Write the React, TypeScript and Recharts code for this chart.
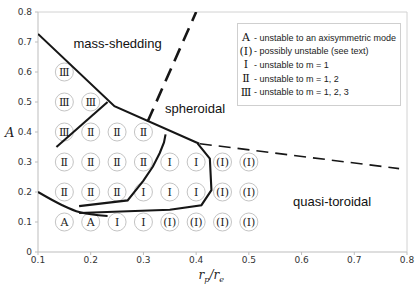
import React from 'react'
import { ComposedChart, Scatter, XAxis, YAxis, ReferenceLine, ReferenceDot, Legend } from 'recharts'

// stability map grid: columns of r_p/r_e, rows of A
const colX = [0.15, 0.2, 0.25, 0.3, 0.35, 0.4, 0.45, 0.5]
const rowY = [0.6, 0.5, 0.4, 0.3, 0.2, 0.1]
const modeGrid = [
  ['Ⅲ'],
  ['Ⅲ', 'Ⅲ'],
  ['Ⅲ', 'Ⅱ', 'Ⅱ', 'Ⅱ'],
  ['Ⅱ', 'Ⅱ', 'Ⅱ', 'Ⅱ', 'Ⅰ', 'Ⅰ', '(Ⅰ)', '(Ⅰ)'],
  ['Ⅱ', 'Ⅱ', 'Ⅱ', 'Ⅰ', 'Ⅰ', 'Ⅰ', '(Ⅰ)', '(Ⅰ)'],
  ['A', 'A', 'Ⅰ', 'Ⅰ', '(Ⅰ)', '(Ⅰ)', '(Ⅰ)', '(Ⅰ)'],
]

// boundaries
const massShedding = [
  { x: 0.1, y: 0.727 },
  { x: 0.245, y: 0.486 },
  { x: 0.406, y: 0.361 },
]
const m3Boundary = [
  { x: 0.135, y: 0.35 },
  { x: 0.232, y: 0.5 },
]
const m2Boundary = [
  { x: 0.178, y: 0.153 },
  { x: 0.27, y: 0.172 },
  { x: 0.3, y: 0.238 },
  { x: 0.318, y: 0.285 },
  { x: 0.331, y: 0.33 },
  { x: 0.339, y: 0.365 },
  { x: 0.342, y: 0.392 },
]
const m1Boundary = [
  { x: 0.178, y: 0.13 },
  { x: 0.35, y: 0.141 },
  { x: 0.41, y: 0.156 },
  { x: 0.429, y: 0.206 },
  { x: 0.426, y: 0.311 },
  { x: 0.403, y: 0.361 },
]
const axisymBoundary = [
  { x: 0.1, y: 0.2 },
  { x: 0.146, y: 0.156 },
  { x: 0.178, y: 0.133 },
  { x: 0.232, y: 0.12 },
]
const spheroidalDash = [
  { x: 0.308, y: 0.435 },
  { x: 0.4, y: 0.8 },
]
const toroidalDash = [
  { x: 0.407, y: 0.361 },
  { x: 0.785, y: 0.278 },
]

const xTicks = [0.1, 0.2, 0.3, 0.4, 0.5, 0.6, 0.7, 0.8]
const yTicks = [0, 0.1, 0.2, 0.3, 0.4, 0.5, 0.6, 0.7, 0.8]

const legendSymbols = ['A', '(Ⅰ)', 'Ⅰ', 'Ⅱ', 'Ⅲ']
const legendTexts = [
  '- unstable to an axisymmetric mode',
  '- possibly unstable (see text)',
  '- unstable to m = 1',
  '- unstable to m = 1, 2',
  '- unstable to m = 1, 2, 3',
]

const cells = rowY.flatMap((y, r) => modeGrid[r].map((label, c) => ({ x: colX[c], y, label })))

const SANS = '"Liberation Sans", Arial, sans-serif'
const SERIF = '"DejaVu Serif", "Liberation Serif", serif'

function ModeCell(props: any) {
  const { cx, cy, payload } = props
  return (
    <g>
      <circle cx={cx} cy={cy} r={9} fill="none" stroke="#c4c4c4" strokeWidth={1} />
      <text x={cx} y={cy} dy="0.36em" textAnchor="middle" fontFamily={SERIF} fontSize={11} fill="#222">
        {payload.label}
      </text>
    </g>
  )
}

const noDot = () => <g />

function StabilityLegend() {
  return (
    <div
      style={{
        border: '1px solid #cfcfcf',
        background: '#fff',
        padding: '7px 0 6px 1px',
        width: 164,
        boxSizing: 'border-box',
      }}
    >
      {legendSymbols.map((s, i) => (
        <div key={i} style={{ display: 'flex', alignItems: 'center', height: 13.6, whiteSpace: 'nowrap' }}>
          <span style={{ width: 14, textAlign: 'center', fontFamily: SERIF, fontSize: 11, color: '#111' }}>{s}</span>
          <span style={{ fontFamily: SANS, fontSize: 9, color: '#222', marginLeft: 1 }}>{legendTexts[i]}</span>
        </div>
      ))}
    </div>
  )
}

function RatioLabel(props: any) {
  const { viewBox } = props
  const cx = viewBox.x + viewBox.width / 2 - 24
  return (
    <text x={cx} y={viewBox.y + 27} fontFamily={SERIF} fontStyle="italic" fontSize={12} fill="#222">
      <tspan>r</tspan>
      <tspan dy={3} fontSize={8}>p</tspan>
      <tspan dy={-3}>/r</tspan>
      <tspan dy={3} fontSize={8}>e</tspan>
    </text>
  )
}

const tickStyle = { fontSize: 9, fill: '#333', fontFamily: '"DejaVu Sans", sans-serif' }

export default function App() {
  const lineStyle = { stroke: '#161616', strokeWidth: 2.1 }
  return (
    <div style={{ position: 'absolute', left: 0, top: 0, background: '#fff' }}>
      <ComposedChart width={415} height={286} margin={{ top: 12, right: 8, bottom: 0, left: 0 }}>
        <XAxis
          type="number"
          dataKey="x"
          domain={[0.1, 0.8]}
          ticks={xTicks}
          allowDataOverflow
          height={34}
          stroke="#bdbdbd"
          tickSize={3}
          tickMargin={2}
          tick={tickStyle}
          tickFormatter={(v: number) => String(v)}
          label={{ content: <RatioLabel /> }}
        />
        <YAxis
          type="number"
          dataKey="y"
          domain={[0, 0.8]}
          ticks={yTicks}
          allowDataOverflow
          width={38}
          stroke="#bdbdbd"
          tickSize={3}
          tickMargin={3}
          tick={tickStyle}
          tickFormatter={(v: number) => String(v)}
          label={{
            value: 'A',
            position: 'insideLeft',
            offset: 5,
            style: { fontFamily: SERIF, fontStyle: 'italic', fontSize: 13, fill: '#222' },
          }}
        />
        <ReferenceLine y={0.8} stroke="#d2d2d2" />
        <ReferenceLine x={0.8} stroke="#d2d2d2" />

        <Scatter data={cells} shape={<ModeCell />} isAnimationActive={false} />

        <Scatter data={massShedding} shape={noDot} line={lineStyle} isAnimationActive={false} />
        <Scatter data={m3Boundary} shape={noDot} line={lineStyle} isAnimationActive={false} />
        <Scatter data={m2Boundary} shape={noDot} line={lineStyle} isAnimationActive={false} />
        <Scatter data={m1Boundary} shape={noDot} line={lineStyle} isAnimationActive={false} />
        <Scatter data={axisymBoundary} shape={noDot} line={lineStyle} lineJointType="monotoneX" isAnimationActive={false} />
        <Scatter
          data={spheroidalDash}
          shape={noDot}
          line={{ stroke: '#161616', strokeWidth: 2.6, strokeDasharray: '14 8' }}
          isAnimationActive={false}
        />
        <Scatter
          data={toroidalDash}
          shape={noDot}
          line={{ stroke: '#161616', strokeWidth: 1.6, strokeDasharray: '12 7' }}
          isAnimationActive={false}
        />

        <ReferenceDot x={0.251} y={0.696} r={0} label={{ value: 'mass-shedding', position: 'center', style: { fontFamily: SANS, fontSize: 13, fill: '#111' } }} />
        <ReferenceDot x={0.398} y={0.478} r={0} label={{ value: 'spheroidal', position: 'center', style: { fontFamily: SANS, fontSize: 13, fill: '#111' } }} />
        <ReferenceDot x={0.658} y={0.169} r={0} label={{ value: 'quasi-toroidal', position: 'center', style: { fontFamily: SANS, fontSize: 13, fill: '#111' } }} />

        <Legend
          layout="vertical"
          align="center"
          verticalAlign="middle"
          content={<StabilityLegend />}
          wrapperStyle={{ left: 237, top: 23, width: 166 }}
        />
      </ComposedChart>
    </div>
  )
}
